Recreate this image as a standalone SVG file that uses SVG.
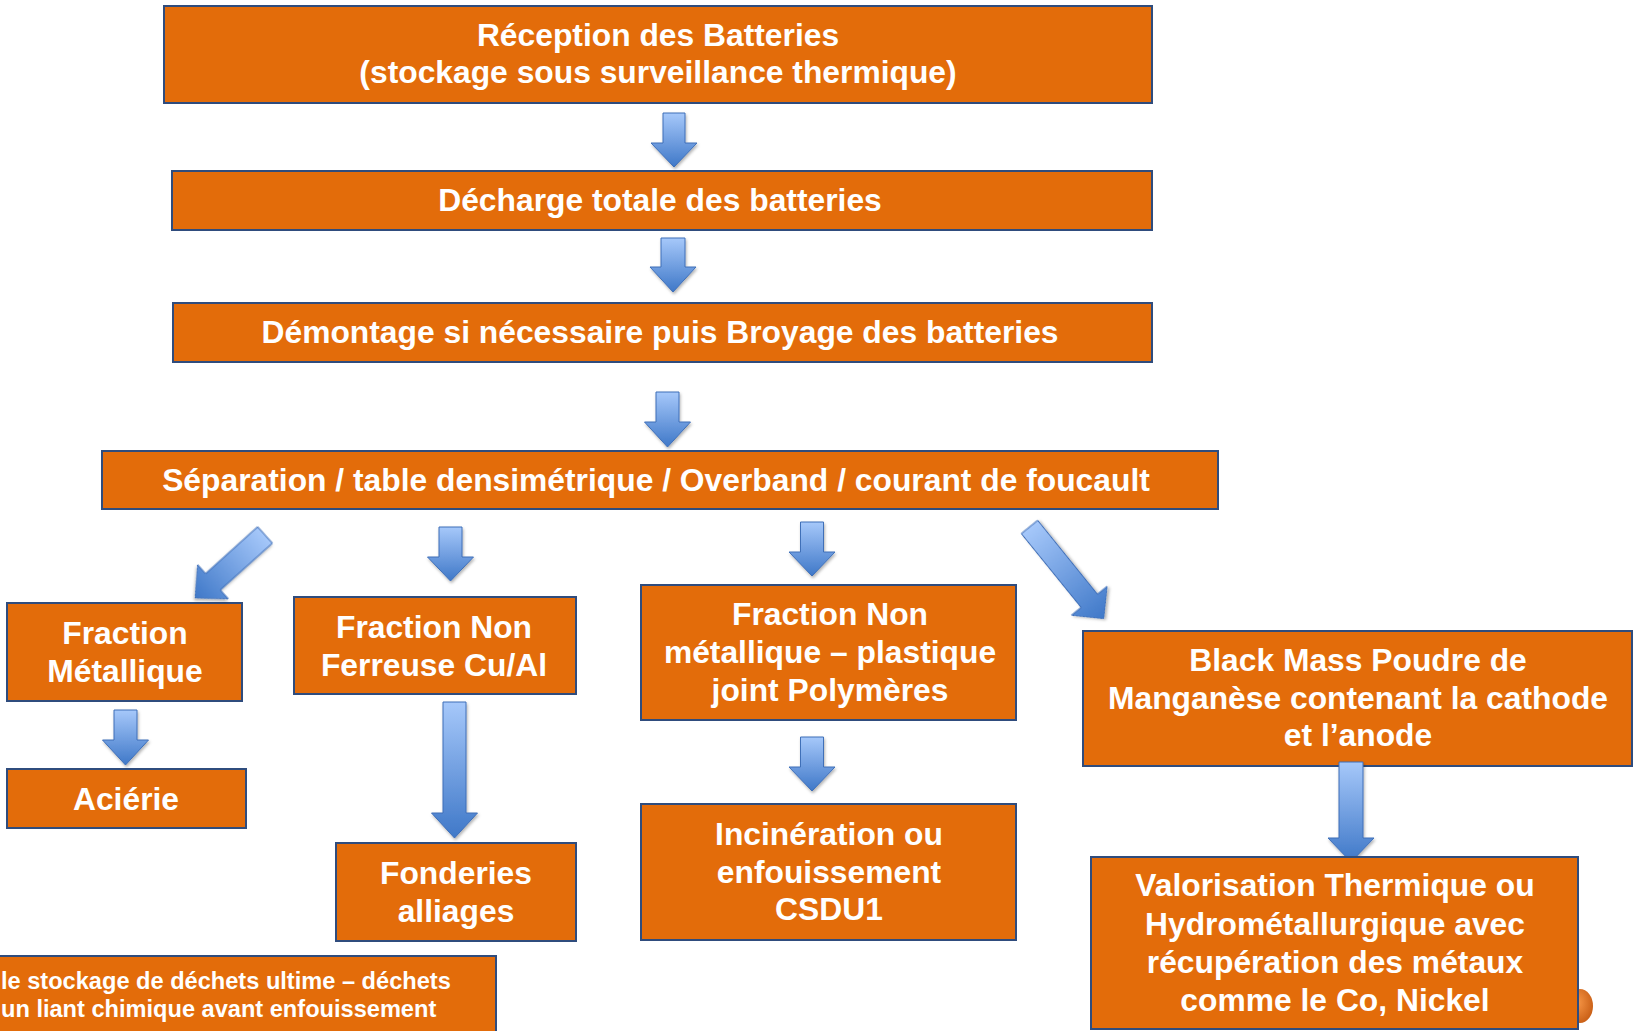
<svg xmlns="http://www.w3.org/2000/svg" width="1637" height="1031" viewBox="0 0 1637 1031">
<style>
.box{fill:#E36C0A;stroke:#2F4C7D;stroke-width:2}
.t{fill:#FFFFFF;font-family:"Liberation Sans",Arial,sans-serif;font-weight:bold;font-size:31.8px;text-anchor:middle}
.ts{fill:#FFFFFF;font-family:"Liberation Sans",Arial,sans-serif;font-weight:bold;font-size:23.6px;text-anchor:start}
.arr{fill:url(#ag);stroke:#3F6FB8;stroke-width:1;filter:url(#sh)}
</style>
<defs>
<linearGradient id="ag" x1="0" y1="0" x2="0" y2="1">
<stop offset="0" stop-color="#A6C8FA"/>
<stop offset="1" stop-color="#3F78C8"/>
</linearGradient>
<radialGradient id="og" cx="0.4" cy="0.4" r="0.7">
<stop offset="0" stop-color="#F79646"/>
<stop offset="1" stop-color="#C55A11"/>
</radialGradient>
<filter id="sh" x="-30%" y="-30%" width="160%" height="160%">
<feDropShadow dx="1" dy="2" stdDeviation="1.5" flood-color="#000" flood-opacity="0.3"/>
</filter>
</defs>
<rect width="1637" height="1031" fill="#FFFFFF"/>

<ellipse cx="1580" cy="1006" rx="13" ry="17" fill="url(#og)"/>

<g id="n-reception"><rect class="box" x="164" y="6" width="988" height="97"/>
<text class="t" x="658" y="46">Réception des Batteries</text>
<text class="t" x="658" y="83">(stockage sous surveillance thermique)</text></g>

<g id="n-decharge"><rect class="box" x="172" y="171" width="980" height="59"/>
<text class="t" x="660" y="211">Décharge totale des batteries</text></g>

<g id="n-demontage"><rect class="box" x="173" y="303" width="979" height="59"/>
<text class="t" x="660" y="343">Démontage si nécessaire puis Broyage des batteries</text></g>

<g id="n-separation"><rect class="box" x="102" y="451" width="1116" height="58"/>
<text class="t" x="656" y="491">Séparation / table densimétrique / Overband / courant de foucault</text></g>

<g id="n-metallique"><rect class="box" x="7" y="603" width="235" height="98"/>
<text class="t" x="125" y="644">Fraction</text>
<text class="t" x="125" y="682">Métallique</text></g>

<g id="n-acierie"><rect class="box" x="7" y="769" width="239" height="59"/>
<text class="t" x="126" y="810">Aciérie</text></g>

<g id="n-nonferreuse"><rect class="box" x="294" y="597" width="282" height="97"/>
<text class="t" x="434" y="638">Fraction Non</text>
<text class="t" x="434" y="676">Ferreuse Cu/Al</text></g>

<g id="n-fonderies"><rect class="box" x="336" y="843" width="240" height="98"/>
<text class="t" x="456" y="884">Fonderies</text>
<text class="t" x="456" y="922">alliages</text></g>

<g id="n-nonmetallique"><rect class="box" x="641" y="585" width="375" height="135"/>
<text class="t" x="830" y="625">Fraction Non</text>
<text class="t" x="830" y="663">métallique – plastique</text>
<text class="t" x="830" y="701">joint Polymères</text></g>

<g id="n-incineration"><rect class="box" x="641" y="804" width="375" height="136"/>
<text class="t" x="829" y="845">Incinération ou</text>
<text class="t" x="829" y="883">enfouissement</text>
<text class="t" x="829" y="920">CSDU1</text></g>

<g id="n-blackmass"><rect class="box" x="1083" y="631" width="549" height="135"/>
<text class="t" x="1358" y="671">Black Mass Poudre de</text>
<text class="t" x="1358" y="709">Manganèse contenant la cathode</text>
<text class="t" x="1358" y="746">et l’anode</text></g>

<g id="n-stockage"><rect class="box" x="-10" y="956" width="506" height="90"/>
<text class="ts" x="1" y="989">le stockage de déchets ultime – déchets</text>
<text class="ts" x="1" y="1017">un liant chimique avant enfouissement</text></g>

<g id="connectors">
<path class="arr" transform="translate(674,113)" d="M-11 0H11V30H23L0 54L-23 30H-11Z"/>
<path class="arr" transform="translate(673,238)" d="M-12 0H12V29H23L0 54L-23 29H-12Z"/>
<path class="arr" transform="translate(667.5,392)" d="M-11.5 0H11.5V30H23L0 55L-23 30H-11.5Z"/>
<path class="arr" transform="translate(125.5,710)" d="M-11.5 0H11.5V30H23L0 55L-23 30H-11.5Z"/>
<path class="arr" transform="translate(450.5,527)" d="M-11.5 0H11.5V30H23L0 54L-23 30H-11.5Z"/>
<path class="arr" transform="translate(454.5,702)" d="M-11.5 0H11.5V111H23L0 136L-23 111H-11.5Z"/>
<path class="arr" transform="translate(812,522)" d="M-11.5 0H11.5V30H23L0 54L-23 30H-11.5Z"/>
<path class="arr" transform="translate(812,737)" d="M-11.5 0H11.5V30H23L0 54L-23 30H-11.5Z"/>
<path class="arr" transform="translate(265,535) rotate(48)" d="M-11 0H11V70H23L0 94L-23 70H-11Z"/>
<path class="arr" transform="translate(1029.5,527) rotate(-39)" d="M-10.5 0H10.5V95H23L0 118L-23 95H-10.5Z"/>
<path class="arr" transform="translate(1351,762)" d="M-12 0H12V76H23L0 100L-23 76H-12Z"/>
</g>

<g id="n-valorisation"><rect class="box" x="1091" y="857" width="487" height="172"/>
<text class="t" x="1335" y="896">Valorisation Thermique ou</text>
<text class="t" x="1335" y="935">Hydrométallurgique avec</text>
<text class="t" x="1335" y="973">récupération des métaux</text>
<text class="t" x="1335" y="1011">comme le Co, Nickel</text></g>
</svg>
